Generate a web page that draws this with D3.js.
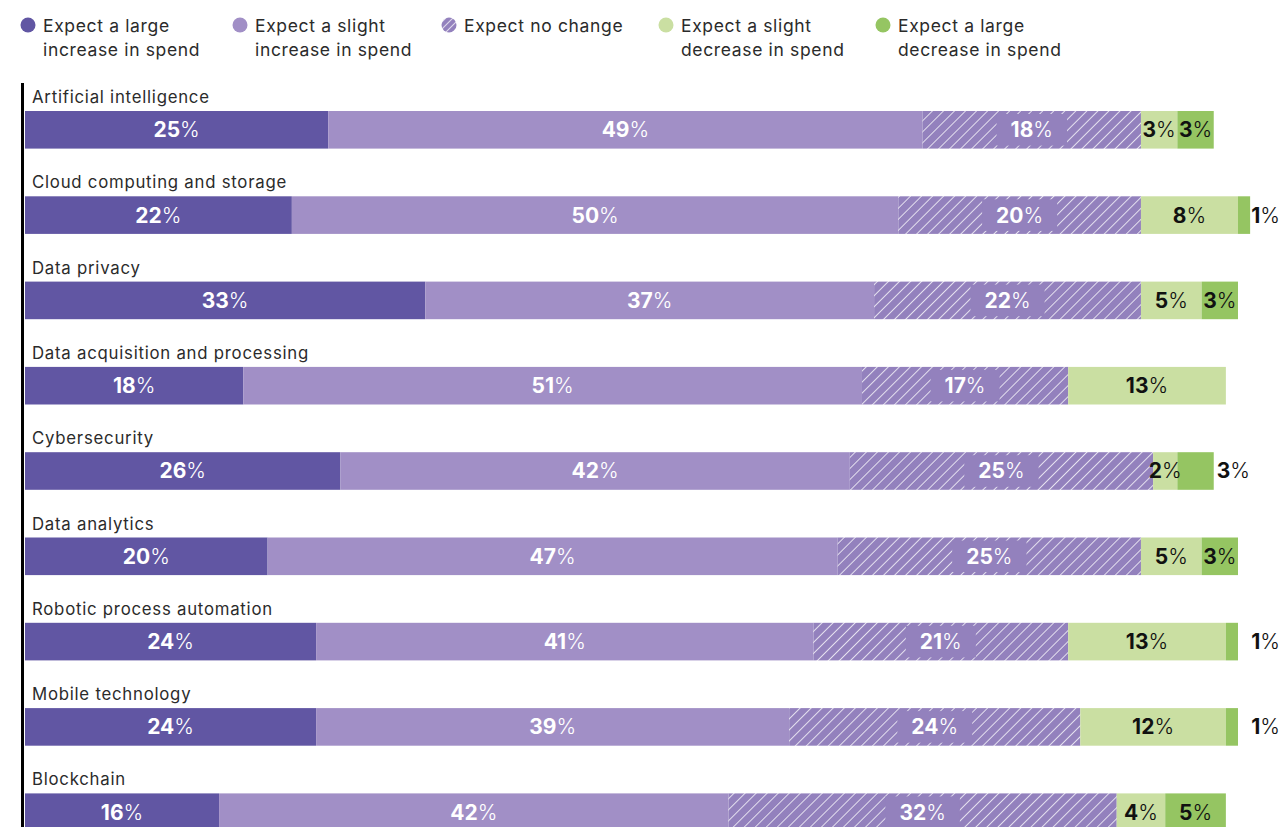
<!DOCTYPE html>
<html>
<head>
<meta charset="utf-8">
<script src="https://cdn.jsdelivr.net/npm/d3@7"></script>
<style>
  html, body { margin: 0; padding: 0; background: #fff; }
  svg { display: block; font-family: "Inter", "Noto Sans", sans-serif; }
</style>
</head>
<body>
<svg id="chart" width="1281" height="827"></svg>
<script>
// Technology areas, top to bottom
const categories = [
  "Artificial intelligence",
  "Cloud computing and storage",
  "Data privacy",
  "Data acquisition and processing",
  "Cybersecurity",
  "Data analytics",
  "Robotic process automation",
  "Mobile technology",
  "Blockchain"
];

// Share of respondents (%) for each spending expectation
const largeIncrease  = [25, 22, 33, 18, 26, 20, 24, 24, 16];
const slightIncrease = [49, 50, 37, 51, 42, 47, 41, 39, 42];
const noChange       = [18, 20, 22, 17, 25, 25, 21, 24, 32];
const slightDecrease = [3, 8, 5, 13, 2, 5, 13, 12, 4];
const largeDecrease  = [3, 1, 3, 0, 3, 3, 1, 1, 5];

const seriesNames = [
  ["Expect a large", "increase in spend"],
  ["Expect a slight", "increase in spend"],
  ["Expect no change"],
  ["Expect a slight", "decrease in spend"],
  ["Expect a large", "decrease in spend"]
];

const seriesValues = [largeIncrease, slightIncrease, noChange, slightDecrease, largeDecrease];
const seriesColors = ["#6156a3", "#a18fc6", "#9381bd", "#cadfa2", "#95c562"];
const labelColors  = ["#ffffff", "#ffffff", "#ffffff", "#111111", "#111111"];

const svg = d3.select("#chart");
const W = 1281;

// hatch pattern for the "no change" segments
const defs = svg.append("defs");
const hs = 7.8;
const pat = defs.append("pattern")
  .attr("id", "hatch")
  .attr("patternUnits", "userSpaceOnUse")
  .attr("width", hs).attr("height", hs)
  .attr("patternTransform", "rotate(45)");
pat.append("rect").attr("width", hs).attr("height", hs).attr("fill", seriesColors[2]);
pat.append("line").attr("x1", 0).attr("y1", 0).attr("x2", 0).attr("y2", hs)
  .attr("stroke", "#ffffff").attr("stroke-width", 1.5);

const legPat = defs.append("pattern")
  .attr("id", "hatchLegend")
  .attr("patternUnits", "userSpaceOnUse")
  .attr("width", 5).attr("height", 5)
  .attr("patternTransform", "rotate(45)");
legPat.append("rect").attr("width", 5).attr("height", 5).attr("fill", seriesColors[2]);
legPat.append("line").attr("x1", 0).attr("y1", 0).attr("x2", 0).attr("y2", 5)
  .attr("stroke", "#ffffff").attr("stroke-width", 1.4);

const fills = seriesColors.map((c, i) => i === 2 ? "url(#hatch)" : c);

// ---- legend ----
const legendX = [28, 240, 449, 666, 883];
const legend = svg.append("g").attr("class", "legend");
seriesNames.forEach((lines, i) => {
  const g = legend.append("g").attr("transform", `translate(${legendX[i]},0)`);
  g.append("circle").attr("cx", 0).attr("cy", 25).attr("r", 7.5)
    .attr("fill", i === 2 ? "url(#hatchLegend)" : seriesColors[i]);
  const t = g.append("text")
    .attr("x", 15).attr("y", 32)
    .attr("font-size", 17.5).attr("fill", "#2b2b2b")
    .attr("letter-spacing", 0.65);
  lines.forEach((ln, j) => {
    t.append("tspan").attr("x", 15).attr("dy", j === 0 ? 0 : 24).text(ln);
  });
});

// ---- scales ----
const rowStep = 85.3;
const x = d3.scaleLinear().domain([0, 100]).range([25, 1238]);
const y = d3.scaleBand().domain(categories)
  .range([83, 83 + rowStep * categories.length]).paddingInner(0).paddingOuter(0);
const barH = 37.6;
const barOffset = 28; // bar top below the band start

// stacked data
const rows = categories.map((c, r) => {
  let acc = 0;
  return seriesValues.map((vals, s) => {
    const v = vals[r];
    const seg = { cat: c, s, v, x0: acc, x1: acc + v };
    acc += v;
    return seg;
  });
});

// axis line on the left
svg.append("line")
  .attr("x1", 22.5).attr("x2", 22.5)
  .attr("y1", 83).attr("y2", 827)
  .attr("stroke", "#000").attr("stroke-width", 3);

const rowG = svg.selectAll("g.row").data(rows).join("g")
  .attr("class", "row")
  .attr("transform", (d, i) => `translate(0,${y(categories[i])})`);

rowG.append("text")
  .attr("x", 32).attr("y", 20)
  .attr("font-size", 16.8).attr("fill", "#2b2b2b")
  .attr("letter-spacing", 0.75)
  .text((d, i) => categories[i]);

rowG.selectAll("rect.seg").data(d => d.filter(s => s.v > 0)).join("rect")
  .attr("class", "seg")
  .attr("x", d => x(d.x0))
  .attr("y", barOffset)
  .attr("width", d => x(d.x1) - x(d.x0))
  .attr("height", barH)
  .attr("fill", d => fills[d.s]);

// value labels: bold number, light percent sign
const labelSize = 21;
function addLabel(g, seg, cx, anchor) {
  const t = g.append("text")
    .attr("x", cx).attr("y", barOffset + barH / 2 + 7.5)
    .attr("text-anchor", anchor)
    .attr("font-size", labelSize)
    .attr("fill", labelColors[seg.s]);
  t.append("tspan").attr("font-weight", 700).text(seg.v);
  t.append("tspan").attr("font-weight", 300).text("%");
  return t;
}

rowG.each(function (segs) {
  const g = d3.select(this);
  const visible = segs.filter(s => s.v > 0);
  const barEnd = x(visible[visible.length - 1].x1);
  let prevRight = -Infinity;
  visible.forEach(seg => {
    const left = x(seg.x0), right = x(seg.x1);
    const cx = (left + right) / 2;
    if (seg.v <= 1) {
      // too thin to hold its label: put it past the bar end
      const lab = addLabel(g, seg, W - 1, "end");
      lab.attr("fill", "#111");
      return;
    }
    const lab = addLabel(g, seg, cx, "middle");
    const bb = lab.node().getBBox();
    if (bb.x < prevRight) {
      // would collide with the previous label: move past the bar end
      lab.attr("x", barEnd + 3).attr("text-anchor", "start").attr("fill", "#111");
      return;
    }
    if (seg.s === 2) {
      // backing block so the hatch does not run through the label
      g.insert("rect", "text.vlabel")
        .attr("x", bb.x - 14).attr("width", bb.width + 28)
        .attr("y", barOffset + 3).attr("height", barH - 6)
        .attr("fill", seriesColors[2]);
      lab.raise();
    }
    lab.attr("class", "vlabel");
    prevRight = bb.x + bb.width;
  });
});
</script>
</body>
</html>
